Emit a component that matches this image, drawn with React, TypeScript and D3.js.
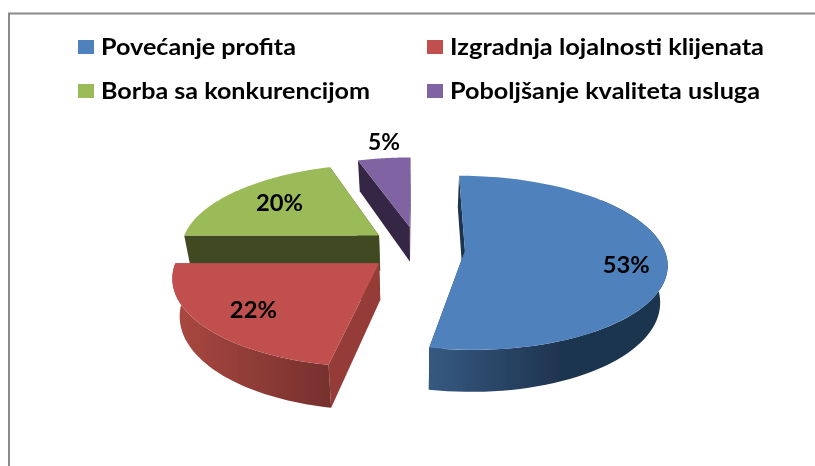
import React from "react";
import * as d3 from "d3";

const categories = ["Povećanje profita", "Izgradnja lojalnosti klijenata", "Borba sa konkurencijom", "Poboljšanje kvaliteta usluga"];
const values = [53, 22, 20, 5];
const topColors = ["#4f81bd", "#c0504d", "#9bbb59", "#8064a2"];
const wallColors = ["#1f3450", "#953b39", "#404a22", "#352645"];
const gradStops = [["#35587f", "#1f3450"], ["#a8473f", "#75302e"], ["#404a22", "#404a22"], ["#352645", "#352645"]];
const labelRadius = [0.8, 0.78, 0.7, 1.18];
const labelNudge = [[0, 8], [9, -1], [3, -1], [4, -5]];
const legendWidths = [195, 314, 269, 310];
const drawOrder = [2, 3, 0, 1];

const W = 815, H = 466;
const Px = 417, Py = 248.5, R = 199, K = 0.426, P = 0.0007;
const EX = 48, EY = 53, DEPTH = 36, SHRINK = 0.97;

const pie = d3.pie<number>().sort(null).startAngle(0).endAngle(2 * Math.PI);
const arcs = pie(values);

const project = (X: number, Y: number, low = false): [number, number] => {
  const s = 1 / (1 - P * Y);
  const x = Px + X * s;
  const y = Py + Y * K * s;
  return low ? [Px + (x - Px) * SHRINK, y + DEPTH * s] : [x, y];
};
const line = d3.line<[number, number]>();

function sliceGeom(i: number) {
  const a = arcs[i];
  const mid = (a.startAngle + a.endAngle) / 2;
  const ax = EX * Math.sin(mid);
  const ay = -EY * Math.cos(mid);
  const rim = (t: number, r = R): [number, number] => [ax + r * Math.sin(t), ay - r * Math.cos(t)];
  const samples = (t0: number, t1: number) =>
    d3.range(0, 61).map((k) => t0 + ((t1 - t0) * k) / 60);
  const top = [project(ax, ay), ...samples(a.startAngle, a.endAngle).map((t) => project(...rim(t)))];
  const edge = (t: number) => {
    const p = rim(t);
    return [project(ax, ay), project(...p), project(p[0], p[1], true), project(ax, ay, true)] as [number, number][];
  };
  const t0 = Math.max(a.startAngle, (50 * Math.PI) / 180);
  const t1 = Math.min(a.endAngle, (270 * Math.PI) / 180);
  let outer: [number, number][] | null = null;
  if (t1 > t0) {
    const ts = samples(t0, t1);
    outer = [
      ...ts.map((t) => project(...rim(t))),
      ...ts.slice().reverse().map((t) => { const p = rim(t); return project(p[0], p[1], true); }),
    ];
  }
  const label = rim(mid, R * labelRadius[i]);
  return { top, edges: [edge(a.startAngle), edge(a.endAngle)], outer, label: project(label[0], label[1]) };
}

const legendX = [78, 427];
const legendY = [47, 91];

export default function App() {
  const geoms = values.map((_, i) => sliceGeom(i));
  const font = "Lato, 'Noto Sans', sans-serif";
  return (
    <svg width={W} height={H} viewBox={`0 0 ${W} ${H}`} style={{ position: "absolute", left: 0, top: 0, display: "block", background: "#fff" }}>
      <defs>
        <filter id="soft" x="-5%" y="-5%" width="110%" height="110%">
          <feGaussianBlur stdDeviation="0.45" />
        </filter>
        {gradStops.map((g, i) => (
          <linearGradient key={i} id={`wall${i}`} gradientUnits="userSpaceOnUse"
            x1={i === 0 ? 432 : 180} x2={i === 0 ? 560 : 332} y1={0} y2={0}>
            <stop offset="0" stopColor={g[0]} />
            <stop offset="1" stopColor={g[1]} />
          </linearGradient>
        ))}
      </defs>
      <g filter="url(#soft)">
        <path d={`M9 ${H}V13.5H${W}`} fill="none" stroke="#8a8a8a" strokeWidth={2} />
        {drawOrder.map((i) => {
          const g = geoms[i];
          return (
            <g key={i}>
              {g.edges.map((e, k) => (
                <path key={k} d={line(e)! + "Z"} fill={wallColors[i]} />
              ))}
              {g.outer && <path d={line(g.outer)! + "Z"} fill={`url(#wall${i})`} />}
              <path d={line(g.top)! + "Z"} fill={topColors[i]} />
            </g>
          );
        })}
        {categories.map((c, i) => {
          const col = i % 2, row = Math.floor(i / 2);
          return (
            <g key={c}>
              <rect x={legendX[col]} y={legendY[row] - 7} width={16} height={14} fill={topColors[i]} />
              <text x={legendX[col] + 23} y={legendY[row] + 7.5} textLength={legendWidths[i]} lengthAdjust="spacingAndGlyphs" fontFamily={font} fontWeight={700} fontSize={22} fill="#000">{c}</text>
            </g>
          );
        })}
        {values.map((v, i) => (
          <text key={i} x={geoms[i].label[0] + labelNudge[i][0] - (v < 10 ? 16 : 23.5)} y={geoms[i].label[1] + 8 + labelNudge[i][1]} textLength={v < 10 ? 32 : 47} lengthAdjust="spacingAndGlyphs" fontFamily={font} fontWeight={700} fontSize={22} fill="#000">{`${v}%`}</text>
        ))}
      </g>
    </svg>
  );
}
